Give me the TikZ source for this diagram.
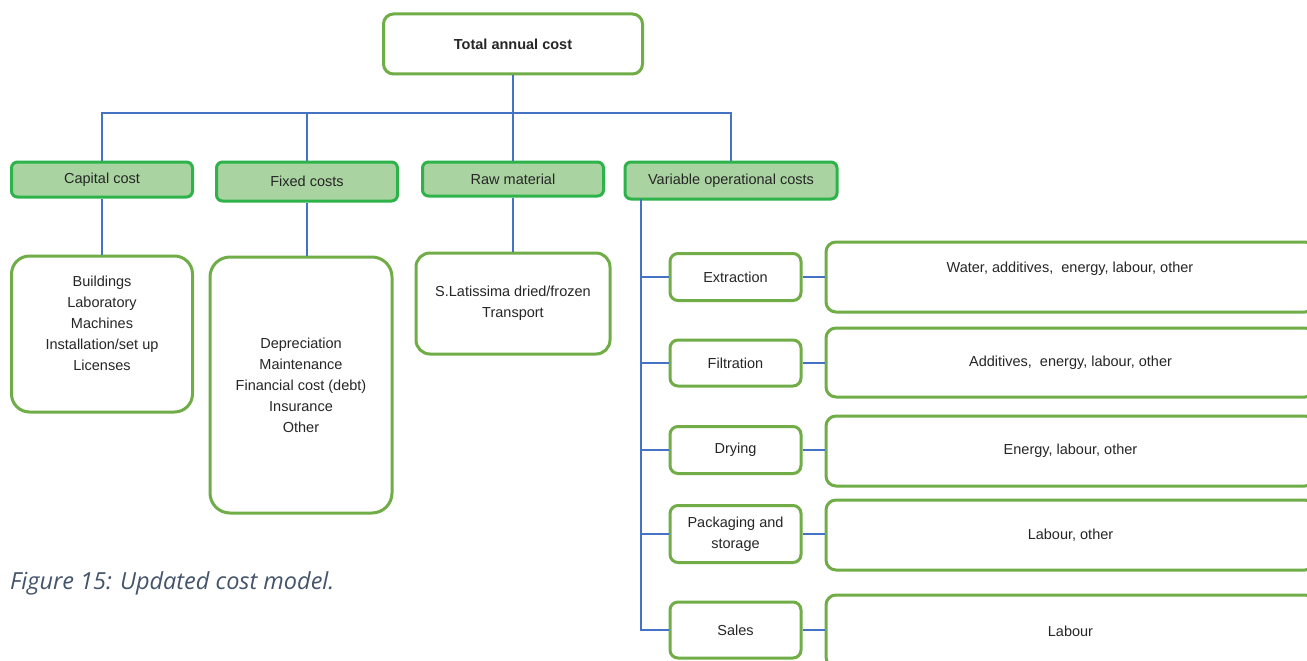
\documentclass[tikz,border=0pt]{standalone}
\usepackage{fontspec}
\setmainfont{Liberation Sans}
\newfontfamily\capfont{Open Sans}
\definecolor{boxgreen}{HTML}{70AD47}
\definecolor{catgreen}{HTML}{2DB34A}
\definecolor{catfill}{HTML}{A9D3A0}
\definecolor{linkblue}{HTML}{4472C4}
\definecolor{captext}{HTML}{44546A}
\begin{document}
\begin{tikzpicture}[x=1pt,y=-1pt,
  every node/.style={font=\fontsize{14.5}{21}\selectfont, text=black!85, inner sep=0pt, align=center},
  topbox/.style={draw=boxgreen, line width=3pt, rounded corners=10pt, fill=white, minimum width=259pt, minimum height=60pt},
  catbox/.style={draw=catgreen, line width=3pt, rounded corners=6pt, fill=catfill, minimum width=181pt},
  detbox/.style={draw=boxgreen, line width=3pt, rounded corners=18pt, fill=white},
  subbox/.style={draw=boxgreen, line width=3pt, rounded corners=8pt, fill=white, minimum width=131pt},
  resbox/.style={draw=boxgreen, line width=3pt, rounded corners=10pt, fill=white, minimum width=489pt},
  link/.style={draw=linkblue, line width=2pt}]
\clip (0,0) rectangle (1307,661);
\fill[white] (0,0) rectangle (1307,661);

% top of the tree
\node[topbox, font=\bfseries\fontsize{14.5}{21}\selectfont] (total) at (513,44) {Total annual cost};

% cost categories
\node[catbox, minimum height=35pt] (capital) at (102,179.5) {Capital cost};
\node[catbox, minimum height=39pt] (fixed) at (307,181.5) {Fixed costs};
\node[catbox, minimum height=34pt] (raw) at (513,179) {Raw material};
\node[catbox, minimum width=212pt, minimum height=37pt] (var) at (731,180.5) {Variable operational costs};

% branches from the top box
\coordinate (bus) at (513,113);
\draw[link] (total.south) -- (bus);
\draw[link] (capital.north) |- (bus) -| (var.north);
\draw[link] (fixed.north) -- (fixed.north |- bus);
\draw[link] (raw.north) -- (raw.north |- bus);

% detail boxes under the first three categories
\node[detbox, minimum width=181pt, minimum height=156pt] (capd) at (102,334) {};
\node (capdt) at (102,323) {Buildings\\Laboratory\\Machines\\Installation/set up\\Licenses};
\node[detbox, rounded corners=20pt, minimum width=182pt, minimum height=256pt] (fixd) at (301,385) {Depreciation\\Maintenance\\Financial cost (debt)\\Insurance\\Other};
\node[detbox, rounded corners=14pt, minimum width=194pt, minimum height=101pt] (rawd) at (513,303.5) {S.Latissima dried/frozen\\Transport};
\draw[link] (capital.south) -- (capd.north);
\draw[link] (fixed.south) -- (fixed.south |- fixd.north);
\draw[link] (raw.south) -- (rawd.north);

% operational steps
\node[subbox, minimum height=47pt] (ext) at (735.5,277) {Extraction};
\node[subbox, minimum height=46pt] (fil) at (735.5,363) {Filtration};
\node[subbox, minimum height=47pt] (dry) at (735.5,450) {Drying};
\node[subbox, minimum height=57pt] (pack) at (735.5,534) {Packaging and\\storage};
\node[subbox, minimum height=56pt] (sales) at (735.5,630) {Sales};

% what each step consumes
\node[resbox, minimum height=70pt] (extr) at (1070.5,277) {};
\node (extrt) at (1070,268.5) {Water, additives,\ \ energy, labour, other};
\node[resbox, minimum height=69pt] (filr) at (1070.5,362.5) {Additives,\ \ energy, labour, other};
\node[resbox, minimum height=70pt] (dryr) at (1070.5,451) {Energy, labour, other};
\node[resbox, minimum height=70pt] (packr) at (1070.5,535) {Labour, other};
\node[resbox, minimum height=72pt] (salesr) at (1070.5,631) {Labour};

% spine of the variable costs
\coordinate (spine) at (641,199);
\draw[link] (spine) |- (sales.west);
\foreach \s in {ext,fil,dry,pack} \draw[link] (spine |- \s.west) -- (\s.west);
\draw[link] (ext.east) -- (extr.west |- ext.east);
\draw[link] (fil.east) -- (filr.west |- fil.east);
\draw[link] (dry.east) -- (dryr.west |- dry.east);
\draw[link] (pack.east) -- (packr.west |- pack.east);
\draw[link] (sales.east) -- (salesr.west |- sales.east);

% caption
\node[anchor=west, font=\capfont\itshape\fontsize{23.5}{28}\selectfont, text=captext] (caption) at (10,583) {Figure 15: Updated cost model.};
\end{tikzpicture}
\end{document}
